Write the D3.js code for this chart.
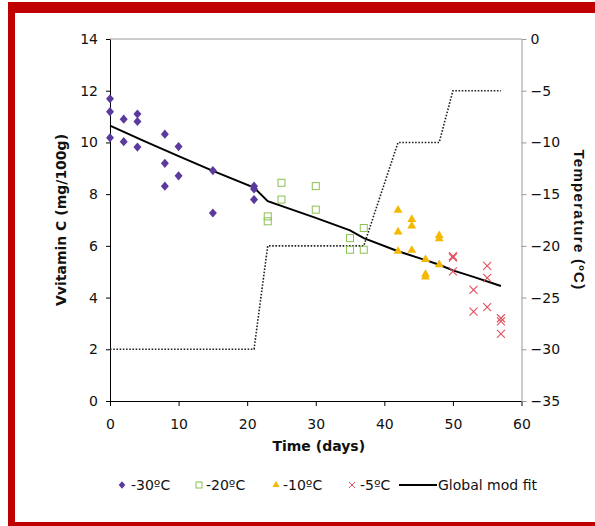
<!DOCTYPE html>
<html>
<head>
<meta charset="utf-8">
<script src="https://cdn.jsdelivr.net/npm/d3@7"></script>
<style>
  body { margin: 0; background: #fff; }
  svg { display: block; font-family: "DejaVu Sans", Verdana, sans-serif; }
</style>
</head>
<body>
<svg></svg>
<script>
// vitamin C readings per storage temperature
const days30 = [0, 0, 0, 2, 2, 4, 4, 4, 8, 8, 8, 10, 10, 15, 15, 21, 21, 21];
const vitC30 = [11.69, 11.19, 10.18, 10.9, 10.03, 11.1, 10.81, 9.82, 10.32, 9.19, 8.31, 9.84, 8.71, 8.91, 7.27, 8.31, 8.2, 7.79];

const days20 = [23, 23, 25, 25, 30, 30, 35, 35, 37, 37];
const vitC20 = [7.14, 6.95, 8.44, 7.79, 8.31, 7.4, 6.3, 5.85, 6.69, 5.85];

const days10 = [42, 42, 42, 44, 44, 44, 46, 46, 46, 48, 48, 48];
const vitC10 = [7.38, 6.54, 5.79, 7.02, 6.77, 5.83, 5.47, 4.9, 4.8, 6.4, 6.28, 5.27];

const days5 = [50, 50, 50, 53, 53, 55, 55, 55, 57, 57, 57];
const vitC5 = [5.6, 5.55, 5.01, 4.3, 3.46, 5.23, 4.76, 3.63, 3.2, 3.08, 2.6];

// global model fit
const fitDays = [0, 5, 10, 15, 21, 23, 30, 35, 37, 42, 46, 48, 50, 53, 57];
const fitVitC = [10.65, 10.05, 9.47, 8.9, 8.25, 7.73, 7.08, 6.6, 6.3, 5.79, 5.45, 5.27, 5.05, 4.8, 4.45];

// storage temperature profile (right axis)
const tempDays = [0, 21, 23, 37, 42, 48, 50, 57];
const tempVals = [-30, -30, -20, -20, -10, -10, -5, -5];

const xTicks = [0, 10, 20, 30, 40, 50, 60];
const yTicks = [0, 2, 4, 6, 8, 10, 12, 14];
const tTicks = [0, -5, -10, -15, -20, -25, -30, -35];

const legendLabels = ["-30ºC", "-20ºC", "-10ºC", "-5ºC", "Global mod fit"];

const W = 595, H = 526;
const svg = d3.select("svg").attr("width", W).attr("height", H);

// red frame
svg.append("rect").attr("x", 8).attr("y", 2).attr("width", W - 8).attr("height", 11).attr("fill", "#c00000");
svg.append("rect").attr("x", 8).attr("y", 2).attr("width", 7).attr("height", H - 2).attr("fill", "#c00000");
svg.append("rect").attr("x", 8).attr("y", 522).attr("width", W - 8).attr("height", 4).attr("fill", "#c00000");

const pLeft = 110, pRight = 521.5, pTop = 39, pBottom = 401;

const x = d3.scaleLinear().domain([0, 60]).range([pLeft, pRight]);
const y = d3.scaleLinear().domain([0, 14]).range([pBottom, pTop]);
const yT = d3.scaleLinear().domain([-35, 0]).range([pBottom, pTop]);

// top border of the plot area
svg.append("line").attr("x1", pLeft).attr("x2", pRight).attr("y1", pTop).attr("y2", pTop)
  .attr("stroke", "#999").attr("stroke-width", 1);

// axes
const gx = svg.append("g").attr("transform", `translate(0,${pBottom})`)
  .call(d3.axisBottom(x).tickValues(xTicks).tickSize(5).tickPadding(13).tickSizeOuter(0));
const gy = svg.append("g").attr("transform", `translate(${pLeft},0)`)
  .call(d3.axisLeft(y).tickValues(yTicks).tickSize(4).tickPadding(8).tickSizeOuter(0));
const gt = svg.append("g").attr("transform", `translate(${pRight},0)`)
  .call(d3.axisRight(yT).tickValues(tTicks).tickSize(5).tickPadding(4).tickSizeOuter(0));

[gx, gy, gt].forEach(g => {
  g.selectAll("text").attr("font-size", 14).attr("font-family", "DejaVu Sans, sans-serif").attr("fill", "#111");
});
gx.select(".domain").attr("stroke", "#000");
gy.select(".domain").attr("stroke", "#000");
gt.select(".domain").attr("stroke", "#999");
gt.selectAll(".tick line").attr("stroke", "#999");

// temperature profile
svg.append("path")
  .datum(tempDays.map((d, i) => [d, tempVals[i]]))
  .attr("fill", "none").attr("stroke", "#222").attr("stroke-width", 1.6)
  .attr("stroke-dasharray", "1.6,1.6")
  .attr("d", d3.line().x(d => x(d[0])).y(d => yT(d[1])));

// fit line
svg.append("path")
  .datum(fitDays.map((d, i) => [d, fitVitC[i]]))
  .attr("fill", "none").attr("stroke", "#000").attr("stroke-width", 2)
  .attr("d", d3.line().x(d => x(d[0])).y(d => y(d[1])));

const purple = "#5b3a9e", green = "#8cc152", gold = "#f5b800", red = "#e0505e";

function crossPath(s) {
  return `M${-s},${-s}L${s},${s}M${-s},${s}L${s},${-s}`;
}
function diamondPath(w, h) {
  return `M0,${-h}L${w},0L0,${h}L${-w},0Z`;
}

// -30 diamonds
svg.append("g").selectAll("path").data(days30.map((d, i) => [d, vitC30[i]])).join("path")
  .attr("transform", d => `translate(${x(d[0])},${y(d[1])})`)
  .attr("d", diamondPath(4, 4.6)).attr("fill", purple);

// -20 open squares
svg.append("g").selectAll("rect").data(days20.map((d, i) => [d, vitC20[i]])).join("rect")
  .attr("x", d => x(d[0]) - 3.5).attr("y", d => y(d[1]) - 3.5)
  .attr("width", 7).attr("height", 7)
  .attr("fill", "none").attr("stroke", green).attr("stroke-width", 1);

// -10 triangles
svg.append("g").selectAll("path").data(days10.map((d, i) => [d, vitC10[i]])).join("path")
  .attr("transform", d => `translate(${x(d[0])},${y(d[1])})`)
  .attr("d", d3.symbol(d3.symbolTriangle, 34)).attr("fill", gold);

// -5 crosses
svg.append("g").selectAll("path").data(days5.map((d, i) => [d, vitC5[i]])).join("path")
  .attr("transform", d => `translate(${x(d[0])},${y(d[1])})`)
  .attr("d", crossPath(4)).attr("stroke", red).attr("stroke-width", 1.1).attr("fill", "none");

// axis titles
svg.append("text").attr("x", (pLeft + pRight) / 2 + 3).attr("y", 451)
  .attr("text-anchor", "middle").attr("font-size", 14).attr("font-weight", "bold")
  .attr("fill", "#111").text("Time (days)");

svg.append("text").attr("transform", `translate(66,${(pTop + pBottom) / 2}) rotate(-90)`)
  .attr("text-anchor", "middle").attr("font-size", 14).attr("font-weight", "bold")
  .attr("fill", "#111").text("Vvitamin C (mg/100g)");

svg.append("text").attr("transform", `translate(574,${(pTop + pBottom) / 2}) rotate(90)`)
  .attr("text-anchor", "middle").attr("font-size", 15).attr("font-weight", "bold")
  .attr("font-family", "Liberation Sans, Arial, sans-serif").attr("letter-spacing", 1.3)
  .attr("fill", "#111").text("Temperature (ºC)");

// legend
const lg = svg.append("g");
const ly = 485;
lg.append("path").attr("transform", `translate(122,${ly})`)
  .attr("d", diamondPath(3.3, 3.8)).attr("fill", purple);
lg.append("rect").attr("x", 196).attr("y", ly - 3).attr("width", 6).attr("height", 6)
  .attr("fill", "none").attr("stroke", green);
lg.append("path").attr("transform", `translate(276,${ly})`)
  .attr("d", d3.symbol(d3.symbolTriangle, 22)).attr("fill", gold);
lg.append("path").attr("transform", `translate(352,${ly})`)
  .attr("d", crossPath(3)).attr("stroke", red).attr("stroke-width", 1).attr("fill", "none");
lg.append("line").attr("x1", 399).attr("x2", 437).attr("y1", ly).attr("y2", ly)
  .attr("stroke", "#000").attr("stroke-width", 2);

const lx = [131, 206, 283, 360, 438];
lg.selectAll("text").data(legendLabels).join("text")
  .attr("x", (d, i) => lx[i]).attr("y", ly + 5)
  .attr("font-size", 14).attr("fill", "#111").text(d => d);
</script>
</body>
</html>
